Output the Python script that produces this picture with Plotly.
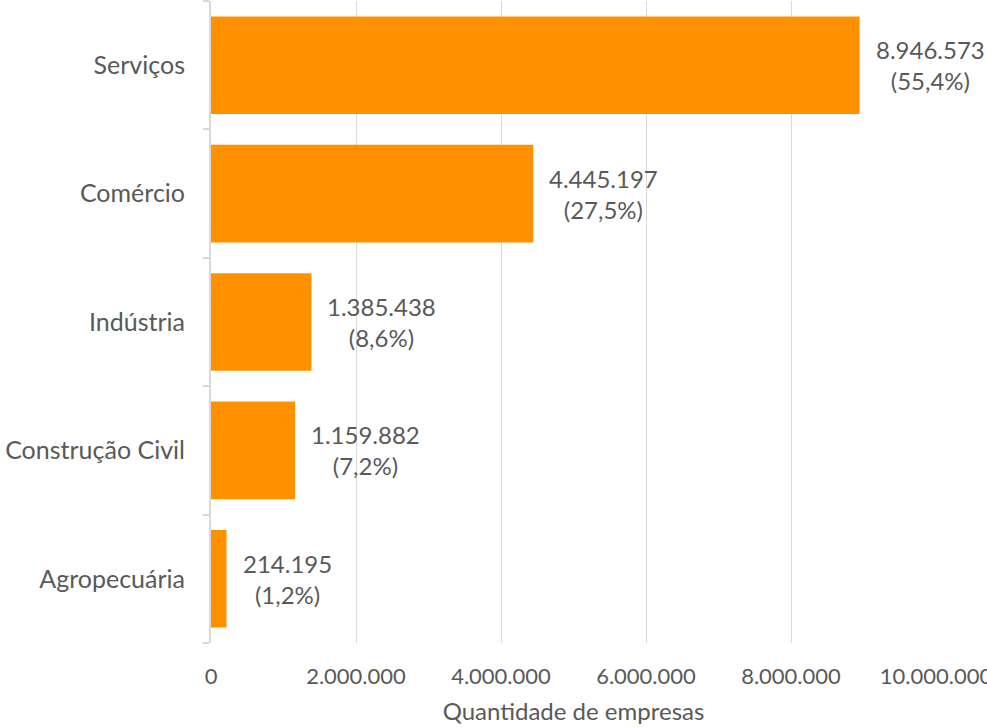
import plotly.graph_objects as go

# Number of companies by economic sector
sectors = ["Agropecuária", "Construção Civil", "Indústria", "Comércio", "Serviços"]
companies = [214195, 1159882, 1385438, 4445197, 8946573]
shares = ["1,2%", "7,2%", "8,6%", "27,5%", "55,4%"]
tick_values = [0, 2000000, 4000000, 6000000, 8000000, 10000000]
tick_labels = ["0", "2.000.000", "4.000.000", "6.000.000", "8.000.000", "10.000.000"]

BAR_COLOR = "#FF9100"
TEXT_COLOR = "#595959"
GRID_COLOR = "#D9D9D9"
FONT = "Lato, 'Open Sans', sans-serif"


def pt_number(v):
    return f"{v:,}".replace(",", ".")


fig = go.Figure(
    go.Bar(
        x=companies,
        y=sectors,
        orientation="h",
        marker=dict(color=BAR_COLOR, line=dict(width=0)),
        hoverinfo="skip",
    )
)

# Value and share labels to the right of each bar
for sector, value, share in zip(sectors, companies, shares):
    fig.add_annotation(
        x=value,
        y=sector,
        text=f"{pt_number(value)}<br>({share})",
        showarrow=False,
        xanchor="left",
        yanchor="middle",
        align="center",
        xshift=14,
        font=dict(family=FONT, size=24, color=TEXT_COLOR),
    )

fig.update_layout(
    width=987,
    height=728,
    margin=dict(l=211, r=51, t=1, b=85, autoexpand=False),
    paper_bgcolor="white",
    plot_bgcolor="white",
    bargap=0.24,
    showlegend=False,
    font=dict(family=FONT, color=TEXT_COLOR),
    xaxis=dict(
        range=[0, 10000000],
        tickvals=tick_values,
        ticktext=tick_labels,
        tickfont=dict(family=FONT, size=22, color=TEXT_COLOR),
        ticklabeloverflow="allow",
        automargin=False,
        showgrid=True,
        gridcolor=GRID_COLOR,
        gridwidth=1,
        zeroline=False,
        showline=False,
        ticks="",
        ticklabelstandoff=18,
        title=dict(
            text="Quantidade de empresas",
            font=dict(family=FONT, size=24, color=TEXT_COLOR),
            standoff=15,
        ),
    ),
    yaxis=dict(
        type="category",
        categoryorder="array",
        categoryarray=sectors,
        tickfont=dict(family=FONT, size=25, color=TEXT_COLOR),
        automargin=False,
        showline=True,
        linecolor=GRID_COLOR,
        linewidth=2,
        ticks="outside",
        tickson="boundaries",
        ticklen=6,
        tickcolor=GRID_COLOR,
        tickwidth=2,
        ticklabelstandoff=19,
        showgrid=False,
        zeroline=False,
    ),
)

fig.write_html("out.html")
